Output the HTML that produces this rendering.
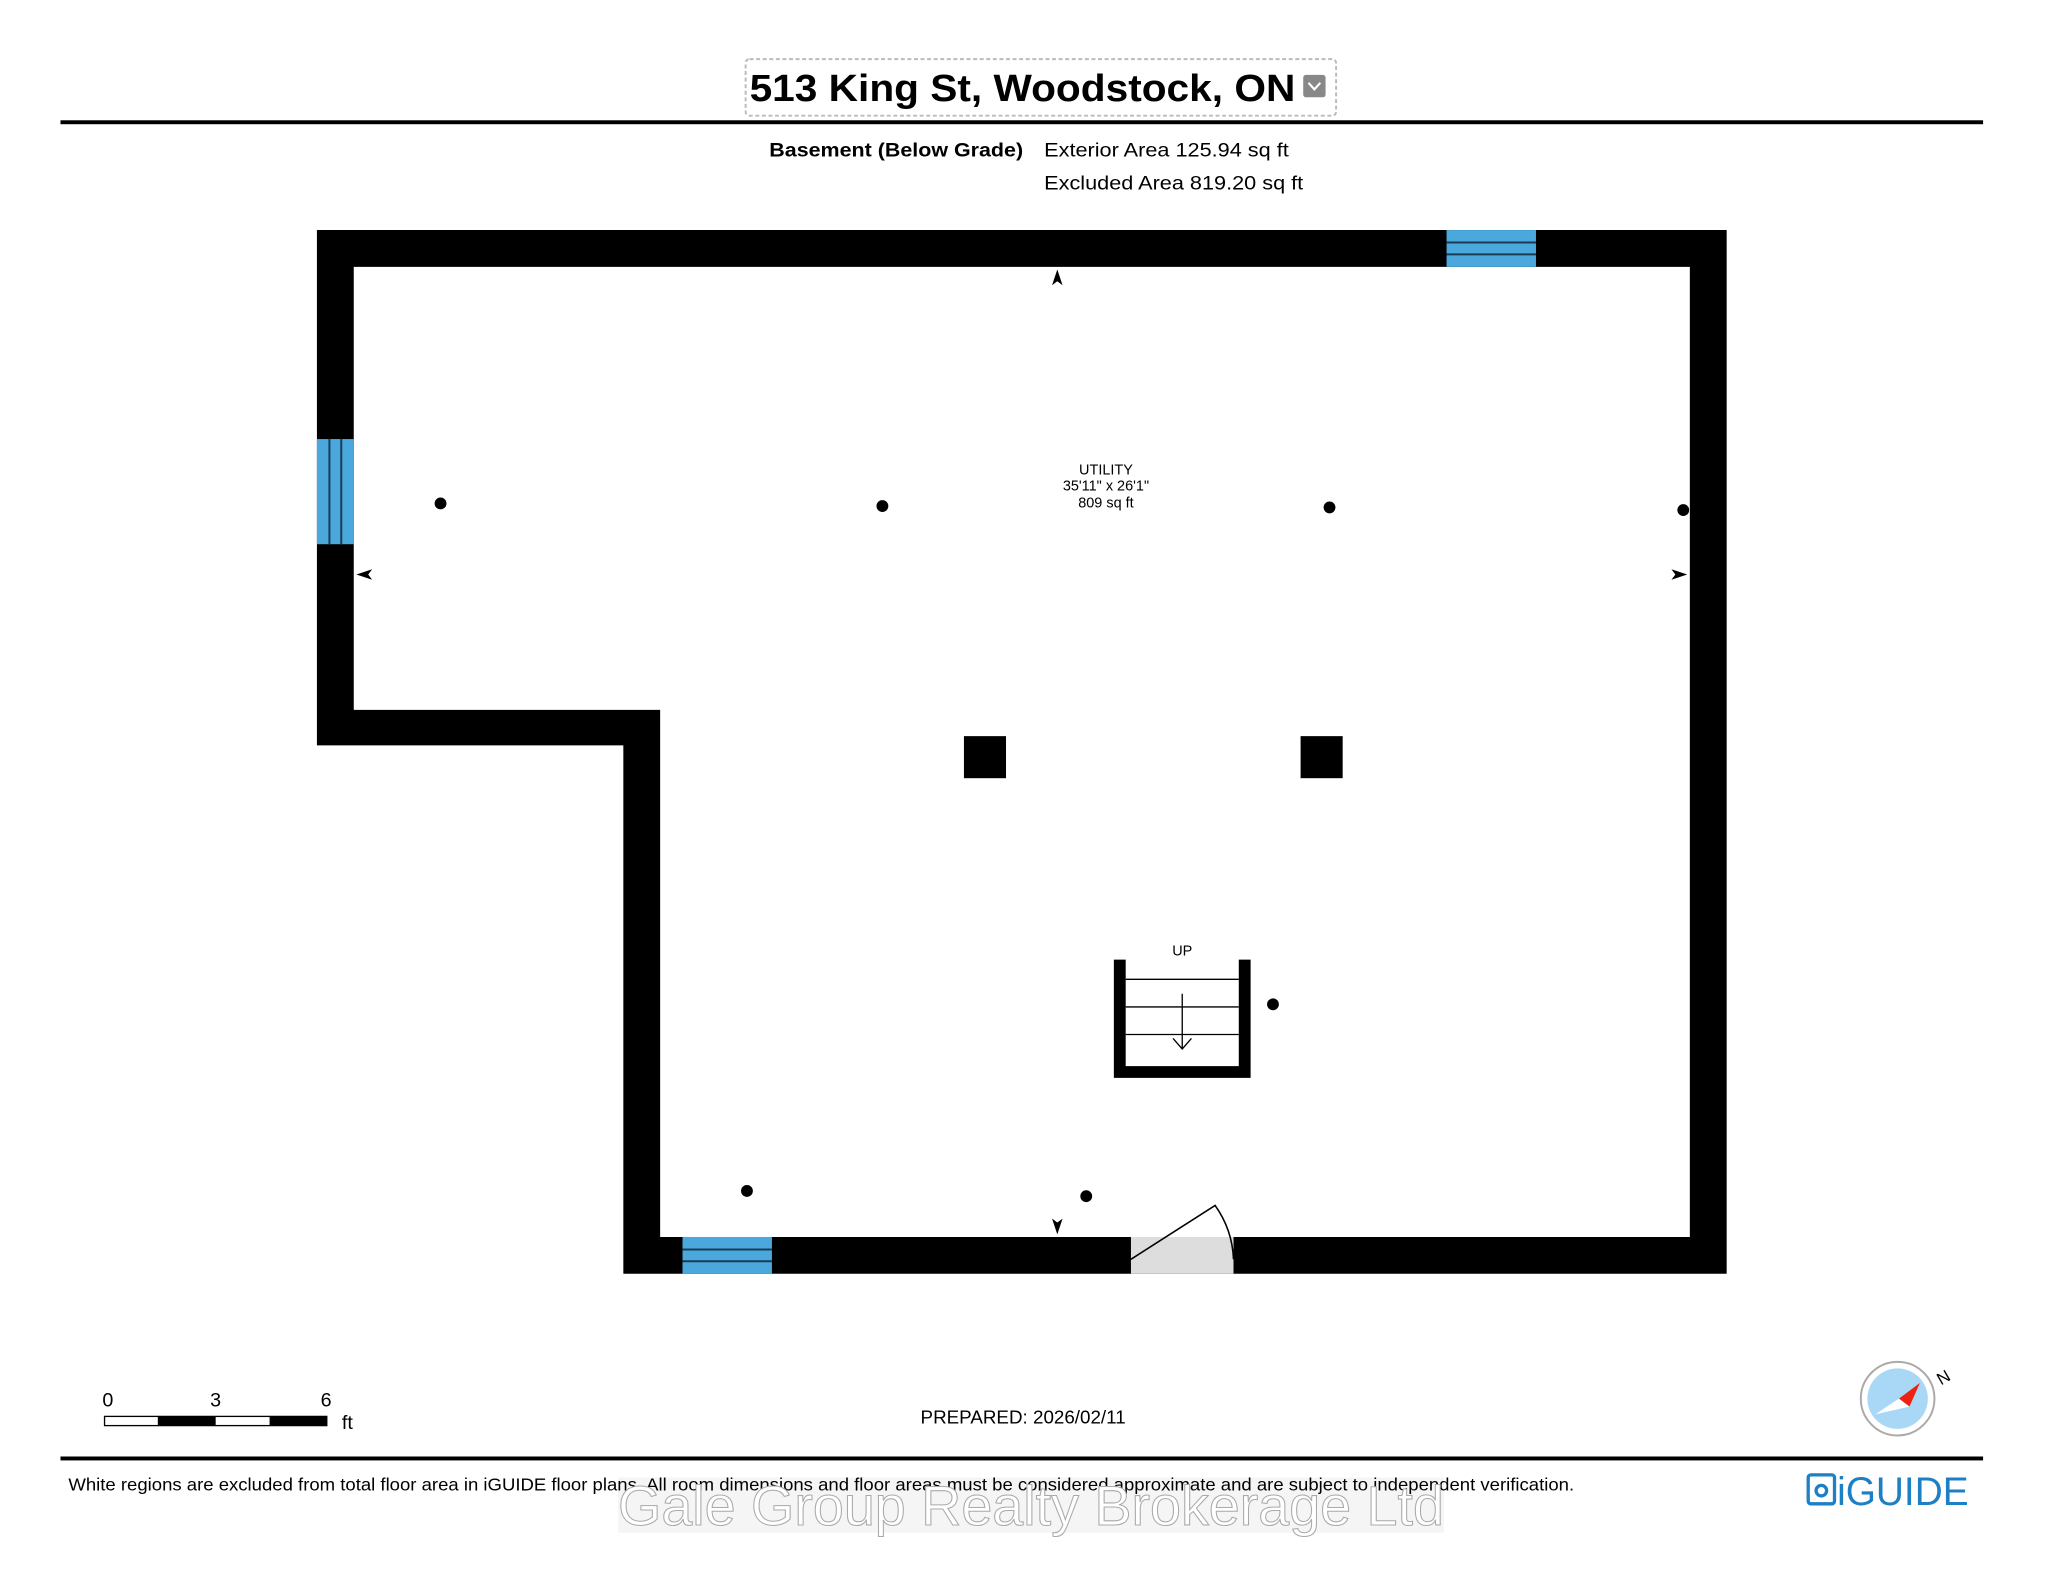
<!DOCTYPE html>
<html><head><meta charset="utf-8"><style>
html,body{margin:0;padding:0;background:#fff;}
svg{display:block;}
</style></head><body>
<svg width="2062" height="1584" viewBox="0 0 1568 1205" preserveAspectRatio="none" xmlns="http://www.w3.org/2000/svg" font-family="Liberation Sans, Arial, sans-serif">
<rect width="1568" height="1205" fill="#fff"/>
<rect x="567" y="45" width="449" height="43" fill="none" stroke="#bbb" stroke-width="1.5" stroke-dasharray="3,2" rx="3"/>
<text x="570" y="77" font-size="29" font-weight="bold" textLength="415" lengthAdjust="spacingAndGlyphs" fill="#000">513 King St, Woodstock, ON</text>
<rect x="991" y="57" width="17" height="17" rx="2" fill="#888"/>
<path d="M995 63 L999.5 68 L1004 63" stroke="#fff" stroke-width="1.6" fill="none"/>
<rect x="46" y="91.5" width="1462" height="3" fill="#000"/>
<text x="585" y="119" font-size="15" font-weight="bold" textLength="193" lengthAdjust="spacingAndGlyphs">Basement (Below Grade)</text>
<text x="794" y="119" font-size="15" textLength="186" lengthAdjust="spacingAndGlyphs">Exterior Area 125.94 sq ft</text>
<text x="794" y="144" font-size="15" textLength="197" lengthAdjust="spacingAndGlyphs">Excluded Area 819.20 sq ft</text>
<path fill="#000" fill-rule="evenodd" d="M241 175 H1313 V969 H474 V567 H241 Z M269 203 V540 H502 V941 H1285 V203 Z"/>
<rect x="1100" y="175" width="68" height="28" fill="#4aa8dc"/>
<path d="M1100 184.5 H1168 M1100 193.5 H1168" stroke="#1a3a55" stroke-width="1.5"/>
<rect x="241" y="334" width="28" height="80" fill="#4aa8dc"/>
<path d="M250.5 334 V414 M259.5 334 V414" stroke="#1a3a55" stroke-width="1.5"/>
<rect x="519" y="941" width="68" height="28" fill="#4aa8dc"/>
<path d="M519 950.5 H587 M519 959.5 H587" stroke="#1a3a55" stroke-width="1.5"/>
<rect x="860" y="941" width="78" height="28" fill="#ddd"/>
<path d="M860 958 L924 917 A76 76 0 0 1 938 958" stroke="#000" stroke-width="1.2" fill="none"/>
<rect x="733" y="560" width="32" height="32" fill="#000"/>
<rect x="989" y="560" width="32" height="32" fill="#000"/>
<g fill="#000">
<circle cx="335" cy="383" r="4.5"/><circle cx="671" cy="385" r="4.5"/><circle cx="1011" cy="386" r="4.5"/>
<circle cx="1280" cy="388" r="4.5"/><circle cx="968" cy="764" r="4.5"/><circle cx="568" cy="906" r="4.5"/><circle cx="826" cy="910" r="4.5"/>
</g>
<g fill="#000">
<path d="M804 205 L808 217 L804 214 L800 217 Z"/>
<path d="M271 437 L283 433 L280 437 L283 441 Z"/>
<path d="M1283 437 L1271 433 L1274 437 L1271 441 Z"/>
<path d="M804 939 L808 927 L804 930 L800 927 Z"/>
</g>
<g font-size="11" text-anchor="middle" fill="#000">
<text x="841" y="361">UTILITY</text>
<text x="841" y="373">35'11" x 26'1"</text>
<text x="841" y="386">809 sq ft</text>
<text x="899" y="727">UP</text>
</g>
<path fill="#000" d="M847 730 H856 V811 H942 V730 H951 V820 H847 Z"/>
<path d="M856 745 H942 M856 766 H942 M856 787 H942" stroke="#000" stroke-width="1"/>
<path d="M899 756 V798 M892 790 L899 798 L906 790" stroke="#000" stroke-width="1" fill="none"/>
<g font-size="15">
<text x="82" y="1070" text-anchor="middle">0</text>
<text x="164" y="1070" text-anchor="middle">3</text>
<text x="248" y="1070" text-anchor="middle">6</text>
<text x="260" y="1087">ft</text>
</g>
<rect x="79" y="1077" width="170" height="8" fill="#000"/>
<rect x="80" y="1078" width="40" height="6" fill="#fff"/>
<rect x="164" y="1078" width="41" height="6" fill="#fff"/>
<text x="700" y="1083" font-size="14" textLength="156" lengthAdjust="spacingAndGlyphs">PREPARED: 2026/02/11</text>
<circle cx="1443" cy="1064" r="28" fill="#fff" stroke="#aaa" stroke-width="1.5"/>
<circle cx="1443" cy="1064" r="23" fill="#a8d8f5"/>
<path d="M1460 1052 L1444 1064 L1452 1070 Z" fill="#e21"/>
<path d="M1426 1076 L1444 1064 L1452 1070 Z" fill="#fff"/>
<text x="1476" y="1054" font-size="13" transform="rotate(-30 1476 1054)">N</text>
<rect x="46" y="1108" width="1462" height="3" fill="#000"/>
<rect x="470" y="1124" width="628" height="42" fill="#eee" opacity="0.6"/>
<text x="52" y="1134" font-size="13" textLength="1145" lengthAdjust="spacingAndGlyphs">White regions are excluded from total floor area in iGUIDE floor plans. All room dimensions and floor areas must be considered approximate and are subject to independent verification.</text>
<g fill="none" stroke="#1d7fc4" stroke-width="2.5">
<rect x="1375" y="1122" width="20" height="22" rx="2"/>
<circle cx="1385" cy="1134" r="4"/>
</g>
<text x="1397" y="1145" font-size="30" fill="#1d7fc4" textLength="100" lengthAdjust="spacingAndGlyphs">iGUIDE</text>
<text x="470" y="1160" font-size="42" textLength="628" lengthAdjust="spacingAndGlyphs" fill="#fff" stroke="#aaa" stroke-width="0.8">Gale Group Realty Brokerage Ltd</text>
</svg>
</body></html>
